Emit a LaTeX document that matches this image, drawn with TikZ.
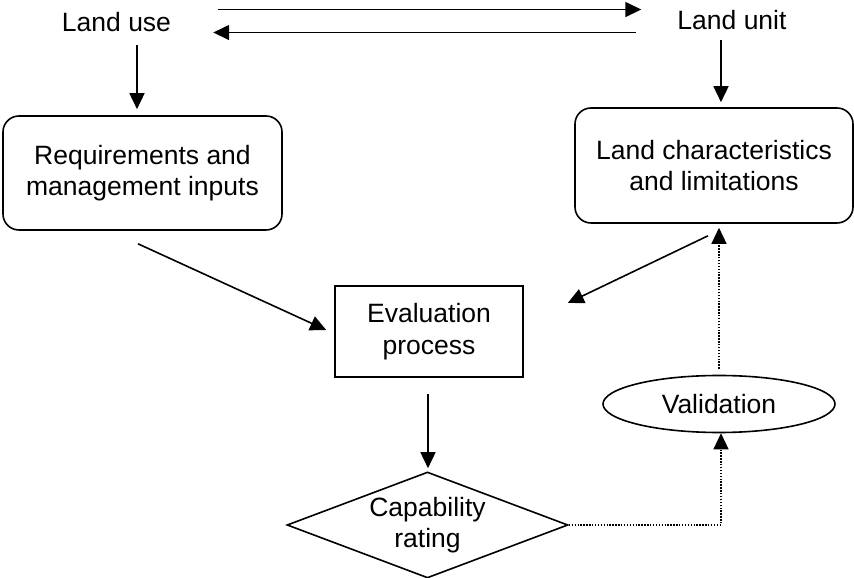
\documentclass[tikz,border=0pt]{standalone}
\usepackage{fontspec}
\setmainfont{Liberation Sans}
\usetikzlibrary{arrows.meta,positioning,calc,shapes.geometric}
\tikzset{
  label/.style={inner sep=0pt, align=center},
  box/.style={draw, line width=1.6pt, align=center, inner sep=0pt},
  roundbox/.style={box, rounded corners=16pt},
  oval/.style={box, ellipse},
  decision/.style={box, diamond, aspect=2.6},
  arrow/.style={-{Triangle[length=16pt,width=15pt]}, line width=1.6pt},
  dotarrow/.style={arrow, line width=1.4pt, dash pattern=on 1.4pt off 1.5pt},
}

\begin{document}
\begin{tikzpicture}[x=1pt, y=1pt, font=\fontsize{26.5}{31.5}\selectfont]
  \useasboundingbox (0,0) rectangle (854,578);

  % Nodes
  \node[label, anchor=base] (landuse) at (116.5,546) {Land use};
  \node[label, anchor=base] (landunit) at (732,548) {Land unit};
  \node[roundbox, minimum width=279pt, minimum height=114pt] (req) at (142.5,405)
    {Requirements and\\management inputs};
  \node[roundbox, minimum width=278pt, minimum height=115pt] (char) at (714,412.5)
    {Land characteristics\\and limitations};
  \node[box, minimum width=188pt, minimum height=91pt] (eval) at (429,246.5)
    {Evaluation\\process};
  \node[oval, minimum width=232pt, minimum height=57pt] (valid) at (719,174) {Validation};
  \node[decision, minimum width=281pt, minimum height=106pt] (cap) at (427.5,53)
    {Capability\\rating};

  % Arrows
  \draw[arrow] ([xshift=47pt,yshift=13pt]landuse.east) -- ([xshift=-36pt,yshift=11pt]landunit.west);
  \draw[arrow] ([xshift=-41.5pt,yshift=-12pt]landunit.west) -- ([xshift=42pt,yshift=-10pt]landuse.east);
  \draw[arrow, shorten <=13pt, shorten >=6pt] ([xshift=20.5pt]landuse.south) -- ([xshift=-5.5pt]req.north);
  \draw[arrow, shorten <=10pt, shorten >=5pt] ([xshift=-11pt]landunit.south) -- ([xshift=7pt]char.north);
  \draw[arrow] ([xshift=-4.5pt,yshift=-13pt]req.south) -- ([xshift=-8pt,yshift=1.5pt]eval.west);
  \draw[arrow] ([xshift=-6pt,yshift=-12pt]char.south) -- ([xshift=44pt,yshift=28.5pt]eval.east);
  \draw[arrow, shorten <=16pt, shorten >=3pt] ([xshift=-1pt]eval.south) -- ([xshift=0.5pt]cap.north);

  % Validation loop
  \draw[dotarrow] (cap.east) -| ([xshift=2pt]valid.south);
  \draw[dotarrow, shorten <=6pt, shorten >=4pt] (valid.north) -- (valid.north |- char.south);
\end{tikzpicture}
\end{document}
